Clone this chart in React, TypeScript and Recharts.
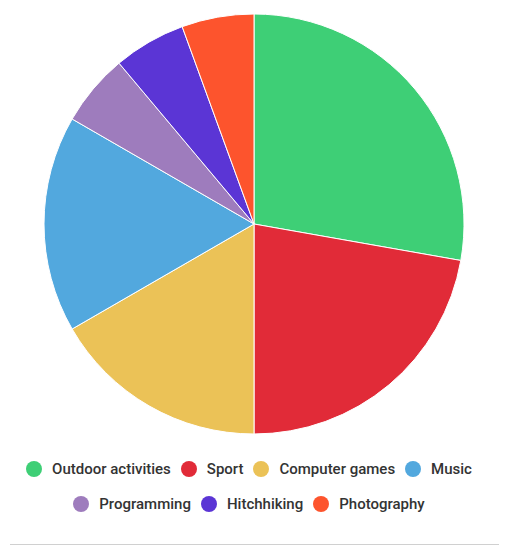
import React from 'react';
import { PieChart, Pie, Cell } from 'recharts';

// Hobbies and how many people picked each one
const hobbies = ['Outdoor activities', 'Sport', 'Computer games', 'Music', 'Programming', 'Hitchhiking', 'Photography'];
const counts = [5, 4, 3, 3, 1, 1, 1];
const colors = ['#3ecf76', '#e12b38', '#ebc257', '#52a8de', '#9e7cbd', '#5b35d5', '#fd542d'];

const data = hobbies.map((name, i) => ({ name, value: counts[i] }));

const App: React.FC = () => {
  return (
    <div style={{ position: 'absolute', left: 0, top: 0, width: 509, height: 550, fontFamily: 'Roboto, sans-serif' }}>
      <PieChart width={509} height={440} margin={{ top: 0, right: 0, bottom: 0, left: 0 }}>
        <Pie
          data={data}
          dataKey="value"
          nameKey="name"
          cx={254}
          cy={224}
          outerRadius={210}
          startAngle={90}
          endAngle={-270}
          stroke="#fff"
          strokeWidth={1}
          isAnimationActive={false}
        >
          {data.map((entry, i) => (
            <Cell key={entry.name} fill={colors[i]} />
          ))}
        </Pie>
      </PieChart>

      {/* legend, two centred rows */}
      <div
        style={{
          position: 'absolute',
          left: 9,
          top: 457,
          width: 480,
          display: 'flex',
          flexWrap: 'wrap',
          justifyContent: 'center',
          rowGap: 11,
        }}
      >
        {data.map((entry, i) => (
          <div key={entry.name} style={{ display: 'flex', alignItems: 'center', margin: '0 5px', height: 24 }}>
            <span
              style={{
                width: 16,
                height: 16,
                borderRadius: '50%',
                background: colors[i],
                display: 'inline-block',
                marginRight: 10,
              }}
            />
            <span style={{ fontSize: 15, color: '#333', fontWeight: 500 }}>{entry.name}</span>
          </div>
        ))}
      </div>

      <div style={{ position: 'absolute', left: 10, top: 544, width: 489, height: 1, background: '#d0d0d0' }} />
    </div>
  );
};

export default App;
